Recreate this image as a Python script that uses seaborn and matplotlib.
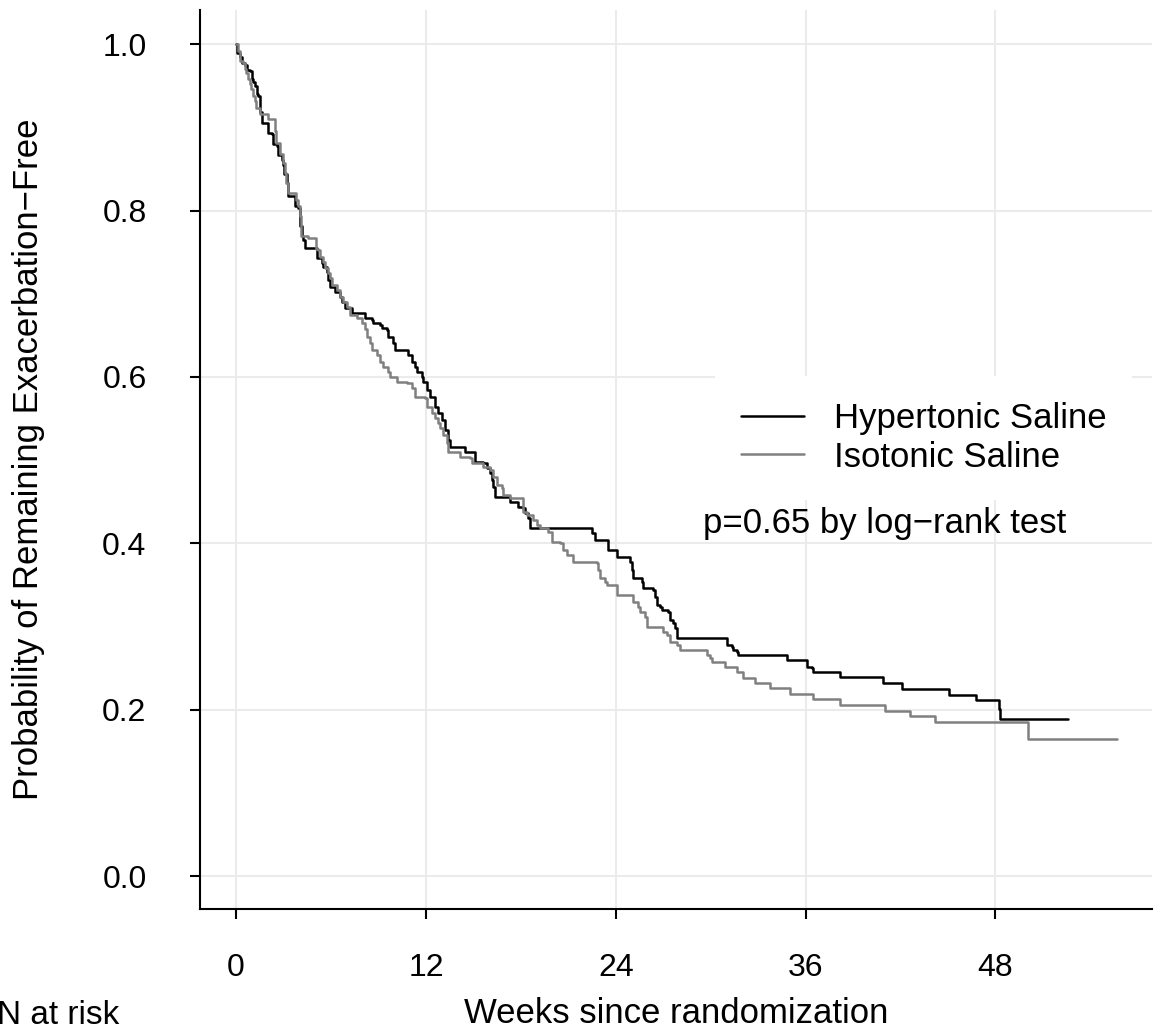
import pandas as pd
import numpy as np
import seaborn as sns
import matplotlib.pyplot as plt

# Kaplan-Meier steps (weeks, probability after the drop)
hyper_weeks = [0.00, 0.03, 0.25, 0.35, 0.57, 0.66, 0.88, 0.98, 1.07, 1.20, 1.30, 1.39, 1.52, 1.61, 1.64,
               2.02, 2.24, 2.34, 2.56, 2.65, 2.88, 2.97, 3.03, 3.19, 3.29, 3.73, 3.92, 4.05, 4.17, 4.25,
               4.36, 5.10, 5.42, 5.52, 5.73, 5.83, 5.94, 6.26, 6.57, 6.68, 6.89, 7.31, 8.15, 8.58, 8.68,
               9.10, 9.21, 9.53, 9.63, 9.94, 10.05, 10.89, 11.11, 11.31, 11.42, 11.74, 11.84, 12.05, 12.26,
               12.58, 12.79, 13.00, 13.21, 13.42, 13.53, 14.48, 15.11, 15.63, 15.85, 16.06, 16.16, 16.26,
               16.37, 17.32, 17.84, 18.16, 18.27, 18.48, 18.58, 22.48, 22.69, 23.53, 24.06, 24.91, 25.01,
               25.11, 25.64, 25.74, 26.38, 26.49, 26.59, 26.80, 26.91, 27.33, 27.43, 27.64, 27.75, 27.86,
               31.02, 31.33, 31.43, 31.65, 31.75, 34.81, 36.07, 36.39, 36.49, 38.18, 40.92, 42.08, 45.09,
               46.78, 48.23, 48.29, 52.59]
hyper_surv = [1.000, 0.989, 0.984, 0.977, 0.975, 0.969, 0.968, 0.958, 0.954, 0.950, 0.940, 0.938, 0.919, 0.913, 0.905,
              0.893, 0.892, 0.880, 0.877, 0.867, 0.861, 0.855, 0.844, 0.833, 0.817, 0.805, 0.803, 0.781, 0.769, 0.764,
              0.755, 0.743, 0.737, 0.732, 0.726, 0.716, 0.708, 0.702, 0.696, 0.690, 0.683, 0.677, 0.671, 0.668, 0.665,
              0.662, 0.659, 0.656, 0.648, 0.641, 0.632, 0.626, 0.618, 0.612, 0.606, 0.600, 0.594, 0.584, 0.576,
              0.564, 0.556, 0.548, 0.536, 0.524, 0.516, 0.510, 0.498, 0.496, 0.490, 0.484, 0.476, 0.468,
              0.456, 0.450, 0.444, 0.442, 0.436, 0.430, 0.418, 0.412, 0.404, 0.392, 0.383, 0.377, 0.368,
              0.358, 0.353, 0.346, 0.344, 0.335, 0.326, 0.323, 0.320, 0.317, 0.308, 0.304, 0.298, 0.286,
              0.278, 0.275, 0.272, 0.269, 0.266, 0.260, 0.251, 0.250, 0.245, 0.239, 0.232, 0.225, 0.218,
              0.212, 0.201, 0.189, 0.189]

iso_weeks = [0.00, 0.13, 0.23, 0.44, 0.55, 0.65, 0.76, 0.87, 0.97, 1.07, 1.18, 1.28, 1.50, 2.02, 2.45,
             2.55, 2.76, 2.97, 3.08, 3.18, 3.29, 3.81, 3.92, 4.03, 4.13, 4.55, 5.08, 5.20, 5.31, 5.52,
             5.63, 5.83, 5.94, 6.05, 6.37, 6.57, 6.78, 7.00, 7.21, 7.63, 7.95, 8.15, 8.26, 8.47, 8.58,
             8.89, 9.10, 9.31, 9.63, 9.73, 10.16, 10.79, 11.11, 11.31, 11.95, 12.05, 12.37, 12.58, 12.79,
             12.90, 13.10, 13.32, 13.42, 14.16, 14.79, 14.90, 15.63, 16.06, 16.26, 16.48, 16.80, 16.90,
             17.32, 18.16, 18.38, 18.79, 19.01, 19.22, 19.74, 19.96, 20.48, 20.69, 20.90, 21.32, 22.80,
             22.90, 23.01, 23.32, 23.43, 24.06, 25.11, 25.43, 25.54, 25.85, 25.96, 27.01, 27.22, 27.43,
             27.86, 28.07, 29.75, 29.96, 30.07, 30.91, 31.65, 32.07, 32.81, 33.75, 35.02, 36.49, 38.18,
             41.02, 42.60, 44.18, 50.04, 55.69]
iso_surv = [1.000, 0.992, 0.980, 0.977, 0.970, 0.965, 0.958, 0.952, 0.946, 0.938, 0.932, 0.923, 0.916, 0.910, 0.896,
            0.881, 0.868, 0.857, 0.845, 0.833, 0.821, 0.813, 0.805, 0.793, 0.769, 0.767, 0.754, 0.752, 0.744, 0.738,
            0.731, 0.725, 0.719, 0.710, 0.704, 0.696, 0.690, 0.684, 0.674, 0.671, 0.665, 0.657, 0.648, 0.641, 0.632,
            0.626, 0.618, 0.612, 0.606, 0.600, 0.594, 0.593, 0.587, 0.576, 0.575, 0.564, 0.556, 0.551, 0.545,
            0.538, 0.530, 0.521, 0.510, 0.504, 0.502, 0.496, 0.492, 0.488, 0.480, 0.470, 0.466, 0.458,
            0.454, 0.438, 0.434, 0.428, 0.422, 0.418, 0.413, 0.401, 0.400, 0.392, 0.386, 0.377, 0.376,
            0.368, 0.358, 0.353, 0.350, 0.338, 0.329, 0.323, 0.317, 0.311, 0.299, 0.293, 0.290, 0.281,
            0.278, 0.272, 0.266, 0.262, 0.257, 0.251, 0.245, 0.238, 0.232, 0.226, 0.219, 0.213, 0.206,
            0.198, 0.192, 0.185, 0.165, 0.165]

groups = ['Hypertonic Saline', 'Isotonic Saline']
x_ticks = [0, 12, 24, 36, 48]
y_ticks = [0.0, 0.2, 0.4, 0.6, 0.8, 1.0]

df = pd.concat([
    pd.DataFrame({'weeks': hyper_weeks, 'surv': hyper_surv, 'group': groups[0]}),
    pd.DataFrame({'weeks': iso_weeks, 'surv': iso_surv, 'group': groups[1]}),
])

sns.set_theme(style='whitegrid')
plt.rcParams['font.family'] = ['Liberation Sans', 'DejaVu Sans']
plt.rcParams['text.color'] = 'black'
plt.rcParams['axes.labelcolor'] = 'black'

fig = plt.figure(figsize=(11.61, 10.33), dpi=100)
ax = fig.add_axes([0.1723, 0.1200, 0.8200, 0.8703])

sns.lineplot(data=df, x='weeks', y='surv', hue='group', hue_order=groups,
             palette=['#000000', '#808080'], drawstyle='steps-post', estimator=None,
             linewidth=1.8, legend=False, ax=ax)

ax.set_xlim(-2.28, 57.9)
ax.set_ylim(-0.0397, 1.041)
ax.set_xticks(x_ticks)
ax.set_xticklabels([str(t) for t in x_ticks])
ax.set_yticks(y_ticks)
ax.set_yticklabels([f'{t:.1f}' for t in y_ticks])

ax.grid(True, color='#EBEBEB', linewidth=1.5)
for side in ['top', 'right']:
    ax.spines[side].set_visible(False)
for side in ['left', 'bottom']:
    ax.spines[side].set_color('black')
    ax.spines[side].set_linewidth(1.5)
ax.tick_params(axis='both', direction='out', length=7.5, width=1.5, color='black',
               labelsize=23, labelcolor='black', left=True, bottom=True)
ax.tick_params(axis='x', pad=24)
ax.tick_params(axis='y', pad=31)

ax.set_xlabel('Weeks since randomization', fontsize=25, color='black')
ax.set_ylabel('Probability of Remaining Exacerbation\u2212Free', fontsize=25, color='black')
ax.xaxis.set_label_coords(0.5, -0.098)
ax.yaxis.set_label_coords(-0.163, 0.5)

leg = ax.legend(handles=ax.lines[:2], labels=groups, loc='upper left',
                bbox_to_anchor=(0.541, 0.593), borderaxespad=0, fontsize=25, frameon=True,
                facecolor='white', edgecolor='none', framealpha=1, fancybox=False,
                handlelength=1.8, handletextpad=0.87, labelspacing=0.16, borderpad=0.75)
for t in leg.get_texts():
    t.set_color('black')

ax.text(29.52, 0.412, 'p=0.65 by log\u2212rank test', fontsize=25, va='baseline', ha='left',
        color='black')
fig.text(-0.003, 1 - 1015 / 1033, 'N at risk', fontsize=24, va='center', ha='left', color='black')

fig.savefig('out.png', dpi=100)
